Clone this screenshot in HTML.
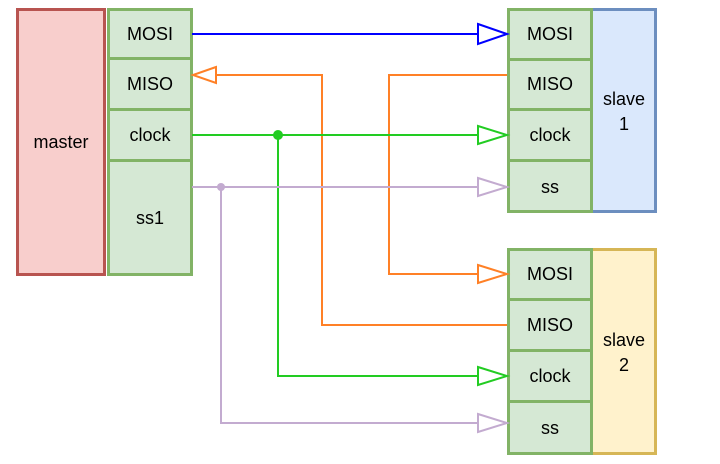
<!DOCTYPE html>
<html><head><meta charset="utf-8"><style>
html,body{margin:0;padding:0;background:#fff;width:720px;height:464px;overflow:hidden}
svg{display:block}
text{font-family:"Liberation Sans",Arial,sans-serif;font-size:18px;fill:#000;text-anchor:middle;dominant-baseline:central}
</style></head><body>
<svg width="720" height="464" viewBox="0 0 720 464" xmlns="http://www.w3.org/2000/svg">
<g stroke-width="3">
<rect x="17.5" y="9.5" width="87" height="265" fill="#f8cecc" stroke="#b85450"/>
<g fill="#d5e8d4" stroke="#82b366">
<rect x="108.5" y="9.5" width="83" height="49"/>
<rect x="108.5" y="58.5" width="83" height="51"/>
<rect x="108.5" y="109.5" width="83" height="51"/>
<rect x="108.5" y="160.5" width="83" height="114"/>
</g>
<rect x="591.5" y="9.5" width="64" height="202" fill="#dae8fc" stroke="#6c8ebf"/>
<rect x="591.5" y="249.5" width="64" height="204" fill="#fff2cc" stroke="#d6b656"/>
<g fill="#d5e8d4" stroke="#82b366">
<rect x="508.5" y="9.5" width="83" height="50"/>
<rect x="508.5" y="59.5" width="83" height="50"/>
<rect x="508.5" y="109.5" width="83" height="51"/>
<rect x="508.5" y="160.5" width="83" height="51"/>
<rect x="508.5" y="249.5" width="83" height="50"/>
<rect x="508.5" y="299.5" width="83" height="51"/>
<rect x="508.5" y="350.5" width="83" height="51"/>
<rect x="508.5" y="401.5" width="83" height="52"/>
</g>
</g>
<g fill="none" stroke-width="2">
<path d="M192 34H478" stroke="#0000ff"/>
<path d="M478 24L507 34L478 44Z" stroke="#0000ff" fill="#fff"/>
<path d="M507 75H389V274H478" stroke="#ff8026"/>
<path d="M478 265L507 274L478 283Z" stroke="#ff8026" fill="#fff"/>
<path d="M507 325H322V75H216" stroke="#ff8026"/>
<path d="M216 67L193 75L216 83Z" stroke="#ff8026" fill="#fff"/>
<path d="M192 135H478M278 135V376H478" stroke="#22cc22"/>
<path d="M478 126L507 135L478 144Z" stroke="#22cc22" fill="#fff"/>
<path d="M478 367L507 376L478 385Z" stroke="#22cc22" fill="#fff"/>
<path d="M192 187H478M221 187V423H478" stroke="#c3abd0"/>
<path d="M478 178L507 187L478 196Z" stroke="#c3abd0" fill="#fff"/>
<path d="M478 414L507 423L478 432Z" stroke="#c3abd0" fill="#fff"/>
</g>
<circle cx="278" cy="135" r="5" fill="#22cc22"/>
<circle cx="221" cy="187" r="4" fill="#c3abd0"/>
<text x="61" y="142">master</text>
<text x="150" y="34">MOSI</text>
<text x="150" y="84">MISO</text>
<text x="150" y="135">clock</text>
<text x="150" y="218">ss1</text>
<text x="550" y="34">MOSI</text>
<text x="550" y="84">MISO</text>
<text x="550" y="135">clock</text>
<text x="550" y="187">ss</text>
<text x="550" y="274">MOSI</text>
<text x="550" y="325">MISO</text>
<text x="550" y="376">clock</text>
<text x="550" y="428">ss</text>
<text x="624" y="99">slave</text>
<text x="624" y="124">1</text>
<text x="624" y="340">slave</text>
<text x="624" y="365">2</text>
</svg>
</body></html>
